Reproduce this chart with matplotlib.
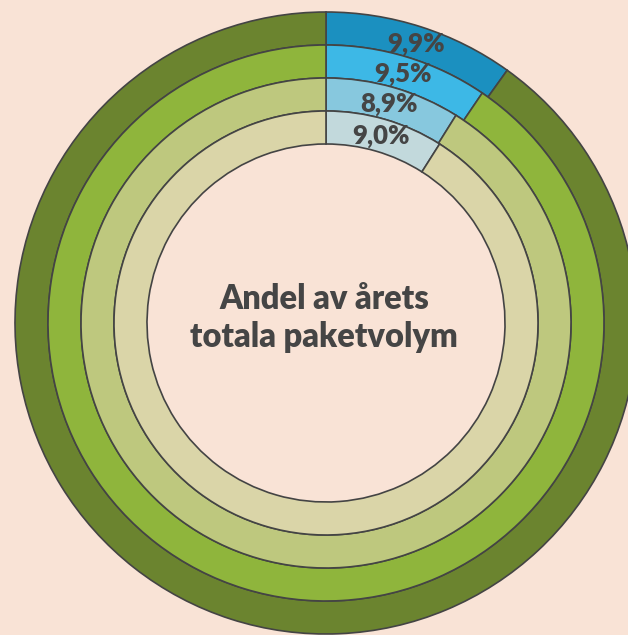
import matplotlib
matplotlib.use('Agg')
from matplotlib import pyplot as plt
import numpy as np

# ring shares, from outer to inner ring
SHARES = [9.9, 9.5, 8.9, 9.0]
LABELS = ['9,9%', '9,5%', '8,9%', '9,0%']
BLUES = ['#1b90c0', '#3db8e6', '#87c8de', '#c2d9dc']
GREENS = ['#6b842f', '#8fb53c', '#bec87e', '#dad5a8']
CENTER_TEXT = 'Andel av årets\ntotala paketvolym'

BG = '#f9e3d6'
EDGE = '#444444'
TEXT = '#454545'
W, H = 628, 635
CX, CY = 326, H - 323
R_OUTER = 311
RING_W = 33


def main():
    plt.rcParams['font.family'] = ['Lato', 'DejaVu Sans']
    fig = plt.figure(figsize=(W / 100, H / 100), dpi=100, facecolor=BG)
    ax = fig.add_axes([0, 0, 1, 1])
    ax.set_facecolor(BG)

    for i, share in enumerate(SHARES):
        r = R_OUTER - i * RING_W
        ax.pie([share, 100 - share], radius=r, center=(CX, CY),
               startangle=90, counterclock=False,
               colors=[BLUES[i], GREENS[i]],
               wedgeprops=dict(width=RING_W, edgecolor=EDGE, linewidth=1.2))
        # label in the middle of the blue wedge
        ang = np.deg2rad(90 - share * 3.6 / 2)
        rm = r - RING_W / 2
        ax.text(CX + rm * np.cos(ang), CY + rm * np.sin(ang) - 1, LABELS[i],
                ha='center', va='center', fontsize=18.5, fontweight='heavy',
                color=TEXT)

    ax.text(CX - 2, H - 318, CENTER_TEXT, ha='center', va='center',
            fontsize=23.5, fontweight='heavy', color=TEXT, linespacing=1.2)

    ax.set_xlim(0, W)
    ax.set_ylim(0, H)
    ax.set_aspect('equal')
    ax.axis('off')
    fig.savefig('out.png', dpi=100, facecolor=BG)


if __name__ == '__main__':
    main()
